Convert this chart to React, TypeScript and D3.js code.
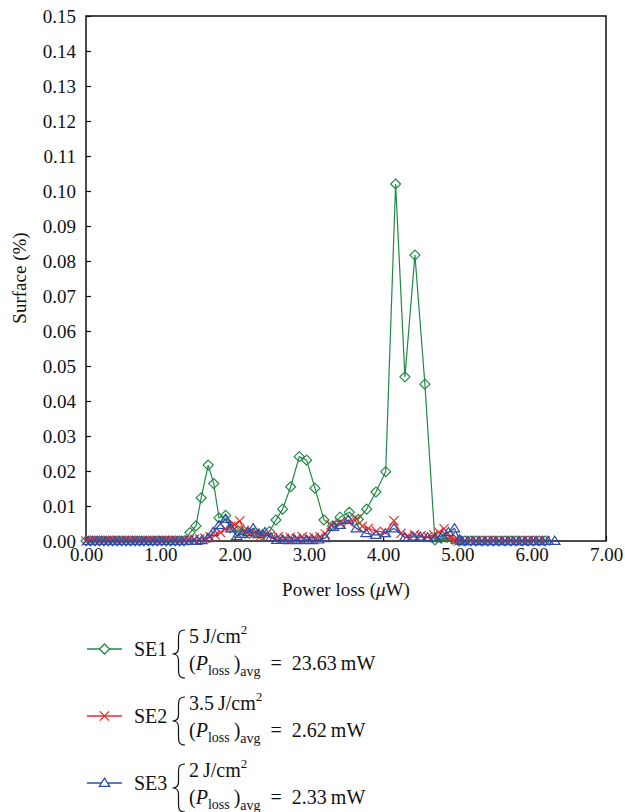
import React, { useEffect, useRef } from 'react'
import * as d3 from 'd3'

// values: [power loss (µW), surface (%)]
const se1: [number, number][] = [
  [0.0, 0], [0.06, 0], [0.12, 0], [0.18, 0], [0.24, 0], [0.3, 0], [0.36, 0], [0.42, 0],
  [0.48, 0], [0.54, 0], [0.6, 0], [0.66, 0], [0.72, 0], [0.78, 0], [0.84, 0], [0.9, 0],
  [0.96, 0], [1.02, 0], [1.08, 0], [1.14, 0], [1.2, 0], [1.26, 0], [1.32, 0],
  [1.4, 0.0024], [1.48, 0.0043], [1.55, 0.0123], [1.645, 0.0217], [1.72, 0.0164],
  [1.79, 0.0066], [1.88, 0.0073], [1.96, 0.004], [2.04, 0.003], [2.12, 0.0028],
  [2.2, 0.0022], [2.28, 0.0024], [2.37, 0.0016], [2.47, 0.0027], [2.557, 0.006],
  [2.647, 0.0091], [2.755, 0.0155], [2.871, 0.0241], [2.97, 0.0231], [3.082, 0.0151],
  [3.203, 0.006], [3.32, 0.0043], [3.42, 0.0068], [3.545, 0.0082], [3.665, 0.0062],
  [3.778, 0.0091], [3.903, 0.014], [4.034, 0.0198], [4.168, 0.102], [4.293, 0.0469],
  [4.428, 0.0817], [4.562, 0.0448], [4.697, 0.0003], [4.78, 0.0008], [4.86, 0.001],
  [4.94, 0.0005], [5.02, 0], [5.1, 0], [5.18, 0], [5.25, 0], [5.33, 0], [5.41, 0],
  [5.48, 0], [5.56, 0], [5.64, 0], [5.72, 0], [5.79, 0], [5.87, 0], [5.95, 0],
  [6.02, 0], [6.1, 0], [6.18, 0]
]

const se2: [number, number][] = [
  [0.0, 0], [0.06, 0], [0.12, 0], [0.18, 0], [0.24, 0], [0.3, 0], [0.36, 0], [0.42, 0],
  [0.48, 0], [0.54, 0], [0.6, 0], [0.66, 0], [0.72, 0], [0.78, 0], [0.84, 0], [0.9, 0],
  [0.96, 0], [1.02, 0], [1.08, 0], [1.14, 0], [1.2, 0], [1.26, 0], [1.32, 0],
  [1.39, 0.0003], [1.46, 0.0005], [1.53, 0.0006], [1.6, 0.0008], [1.67, 0.0012],
  [1.74, 0.0017], [1.81, 0.0024], [1.88, 0.0035], [1.95, 0.0042], [2.0, 0.0046],
  [2.07, 0.0057], [2.13, 0.003], [2.2, 0.002], [2.27, 0.0022], [2.35, 0.0015],
  [2.43, 0.002], [2.51, 0.001], [2.59, 0.0012], [2.67, 0.0008], [2.75, 0.001],
  [2.83, 0.0008], [2.91, 0.0012], [2.99, 0.0008], [3.07, 0.001], [3.15, 0.0012],
  [3.22, 0.002], [3.3, 0.0046], [3.42, 0.005], [3.53, 0.0055], [3.64, 0.0062],
  [3.72, 0.0042], [3.8, 0.0036], [3.91, 0.0028], [4.03, 0.0025], [4.145, 0.0058],
  [4.24, 0.0022], [4.33, 0.0015], [4.42, 0.0018], [4.51, 0.0015], [4.6, 0.0012],
  [4.68, 0.0018], [4.75, 0.0025], [4.82, 0.0035], [4.9, 0.001], [4.97, 0.0004],
  [5.02, 0], [5.1, 0], [5.18, 0], [5.25, 0], [5.33, 0], [5.41, 0], [5.48, 0],
  [5.56, 0], [5.64, 0], [5.72, 0], [5.79, 0], [5.87, 0], [5.95, 0], [6.02, 0],
  [6.1, 0], [6.18, 0]
]

const se3: [number, number][] = [
  [0.03, 0], [0.09, 0], [0.15, 0], [0.21, 0], [0.27, 0], [0.33, 0], [0.39, 0], [0.45, 0],
  [0.51, 0], [0.57, 0], [0.63, 0], [0.69, 0], [0.75, 0], [0.81, 0], [0.87, 0], [0.93, 0],
  [0.99, 0], [1.05, 0], [1.11, 0], [1.17, 0], [1.23, 0], [1.29, 0], [1.35, 0], [1.42, 0],
  [1.49, 0], [1.56, 0.0002], [1.64, 0.0008], [1.71, 0.0025], [1.79, 0.0045],
  [1.88, 0.0063], [1.95, 0.0036], [2.03, 0.0014], [2.1, 0.002], [2.18, 0.0025],
  [2.25, 0.0036], [2.33, 0.002], [2.41, 0.0025], [2.49, 0.001], [2.57, 0.0003],
  [2.65, 0.0003], [2.73, 0.0002], [2.81, 0.0003], [2.89, 0.0002], [2.97, 0.0003],
  [3.05, 0.0002], [3.13, 0.0004], [3.22, 0.0008], [3.33, 0.004], [3.42, 0.0046],
  [3.53, 0.006], [3.64, 0.0036], [3.77, 0.0022], [3.9, 0.0017], [4.03, 0.0022],
  [4.145, 0.0036], [4.29, 0.001], [4.4, 0.0012], [4.5, 0.0012], [4.6, 0.001],
  [4.7, 0.0008], [4.8, 0.0015], [4.88, 0.0025], [4.96, 0.0036], [5.03, 0.0004],
  [5.06, 0], [5.14, 0], [5.21, 0], [5.29, 0], [5.37, 0], [5.45, 0], [5.52, 0],
  [5.6, 0], [5.68, 0], [5.75, 0], [5.83, 0], [5.91, 0], [5.99, 0], [6.06, 0],
  [6.14, 0], [6.22, 0], [6.31, 0]
]

const xTicks = [0, 1, 2, 3, 4, 5, 6, 7]
const yTicks = [0, 0.01, 0.02, 0.03, 0.04, 0.05, 0.06, 0.07, 0.08, 0.09, 0.1, 0.11, 0.12, 0.13, 0.14, 0.15]

const seriesNames = ['SE1', 'SE2', 'SE3']
const fluences = ['5', '3.5', '2']
const avgLoss = ['23.63', '2.62', '2.33']
const colors = ['#1f8b45', '#f02828', '#2c4ca8']
const shapes = ['diamond', 'cross', 'triangle']

const FONT = '"Liberation Serif", "Times New Roman", serif'

function marker(shape: string) {
  if (shape === 'diamond') return 'M0,-5L5,0L0,5L-5,0Z'
  if (shape === 'cross') return 'M-4.6,-4.6L4.6,4.6M-4.6,4.6L4.6,-4.6'
  return 'M0,-4.8L5.2,3.4L-5.2,3.4Z'
}

export default function App() {
  const ref = useRef<SVGSVGElement>(null)

  useEffect(() => {
    const svg = d3.select(ref.current)
    svg.selectAll('*').remove()

    const x = d3.scaleLinear().domain([0, 7]).range([86, 606])
    const y = d3.scaleLinear().domain([0, 0.15]).range([541, 16])

    const g = svg.append('g').attr('font-family', FONT)

    // y axis
    const ya = g.append('g')
      .attr('transform', 'translate(86,0)')
      .call(d3.axisLeft(y).tickValues(yTicks).tickFormat(d3.format('.2f')).tickSize(-5).tickSizeOuter(0).tickPadding(10))
    ya.selectAll('text').attr('font-size', 19).attr('font-family', FONT).attr('fill', '#111')
    ya.selectAll('line').attr('stroke', '#111').attr('stroke-width', 1.2)
    ya.select('.domain').remove()

    // x axis
    const xa = g.append('g')
      .attr('transform', 'translate(0,541)')
      .call(d3.axisBottom(x).tickValues(xTicks).tickFormat(d3.format('.2f')).tickSize(-5).tickSizeOuter(0).tickPadding(7))
    xa.selectAll('text').attr('font-size', 19).attr('font-family', FONT).attr('fill', '#111')
    xa.selectAll('line').attr('stroke', '#111').attr('stroke-width', 1.2)
    xa.select('.domain').remove()

    // frame
    g.append('rect')
      .attr('x', 86).attr('y', 16).attr('width', 520).attr('height', 525)
      .attr('fill', 'none').attr('stroke', '#111').attr('stroke-width', 1.5)

    // titles
    g.append('text')
      .attr('transform', 'translate(26,278) rotate(-90)')
      .attr('text-anchor', 'middle').attr('font-size', 19).attr('fill', '#111')
      .text('Surface (%)')
    const xt = g.append('text')
      .attr('x', 346).attr('y', 596)
      .attr('text-anchor', 'middle').attr('font-size', 19).attr('fill', '#111')
    xt.append('tspan').text('Power loss (')
    xt.append('tspan').attr('font-style', 'italic').text('\u03bc')
    xt.append('tspan').text('W)')

    const line = d3.line<[number, number]>().x(d => x(d[0])).y(d => y(d[1]))
    const allSeries = [se1, se2, se3]

    allSeries.forEach((data, i) => {
      const s = g.append('g')
      s.append('path')
        .datum(data)
        .attr('d', line)
        .attr('fill', 'none')
        .attr('stroke', colors[i])
        .attr('stroke-width', 1.2)
      s.selectAll('path.m')
        .data(data)
        .enter()
        .append('path')
        .attr('class', 'm')
        .attr('d', marker(shapes[i]))
        .attr('transform', d => `translate(${x(d[0])},${y(d[1])})`)
        .attr('fill', 'none')
        .attr('stroke', colors[i])
        .attr('stroke-width', 1.2)
    })

    // legend
    const legendY = [649, 716, 783]
    seriesNames.forEach((name, i) => {
      const ly = legendY[i]
      const lg = g.append('g')
      lg.append('line')
        .attr('x1', 87).attr('x2', 122).attr('y1', ly).attr('y2', ly)
        .attr('stroke', colors[i]).attr('stroke-width', 1.4)
      lg.append('path')
        .attr('d', marker(shapes[i]))
        .attr('transform', `translate(104.5,${ly})`)
        .attr('fill', '#fff')
        .attr('stroke', colors[i])
        .attr('stroke-width', 1.3)
      lg.append('text')
        .attr('x', 134).attr('y', ly + 7)
        .attr('font-size', 20).attr('fill', '#111')
        .text(name)
      const top = ly - 19
      const bot = ly + 29
      const mid = ly + 5
      lg.append('path')
        .attr('d', `M185,${top} C179,${top} 178.5,${top + 3} 178.5,${top + 9} L178.5,${mid - 6} C178.5,${mid - 2} 176.5,${mid} 172.5,${mid} C176.5,${mid} 178.5,${mid + 2} 178.5,${mid + 6} L178.5,${bot - 9} C178.5,${bot - 3} 179,${bot} 185,${bot}`)
        .attr('fill', 'none').attr('stroke', '#111').attr('stroke-width', 1.2)
      const t1 = lg.append('text')
        .attr('x', 189).attr('y', ly - 6)
        .attr('font-size', 20).attr('fill', '#111')
      t1.append('tspan').text(`${fluences[i]}\u2009J/cm`)
      t1.append('tspan').attr('font-size', 13).attr('dy', -9).text('2')
      const t2 = lg.append('text')
        .attr('x', 189).attr('y', ly + 21)
        .attr('font-size', 20).attr('fill', '#111')
      t2.append('tspan').text('(')
      t2.append('tspan').attr('font-style', 'italic').text('P')
      t2.append('tspan').attr('font-size', 14).attr('dy', 5).text('loss')
      t2.append('tspan').attr('dy', -5).text('\u2009)')
      t2.append('tspan').attr('font-size', 14).attr('dy', 6).text('avg')
      t2.append('tspan').attr('dy', -6).text(`\u2002=\u2002${avgLoss[i]}\u2009mW`)
    })
  }, [])

  return (
    <svg
      ref={ref}
      width={625}
      height={812}
      style={{ position: 'absolute', left: 0, top: 0, background: '#fff' }}
    />
  )
}
